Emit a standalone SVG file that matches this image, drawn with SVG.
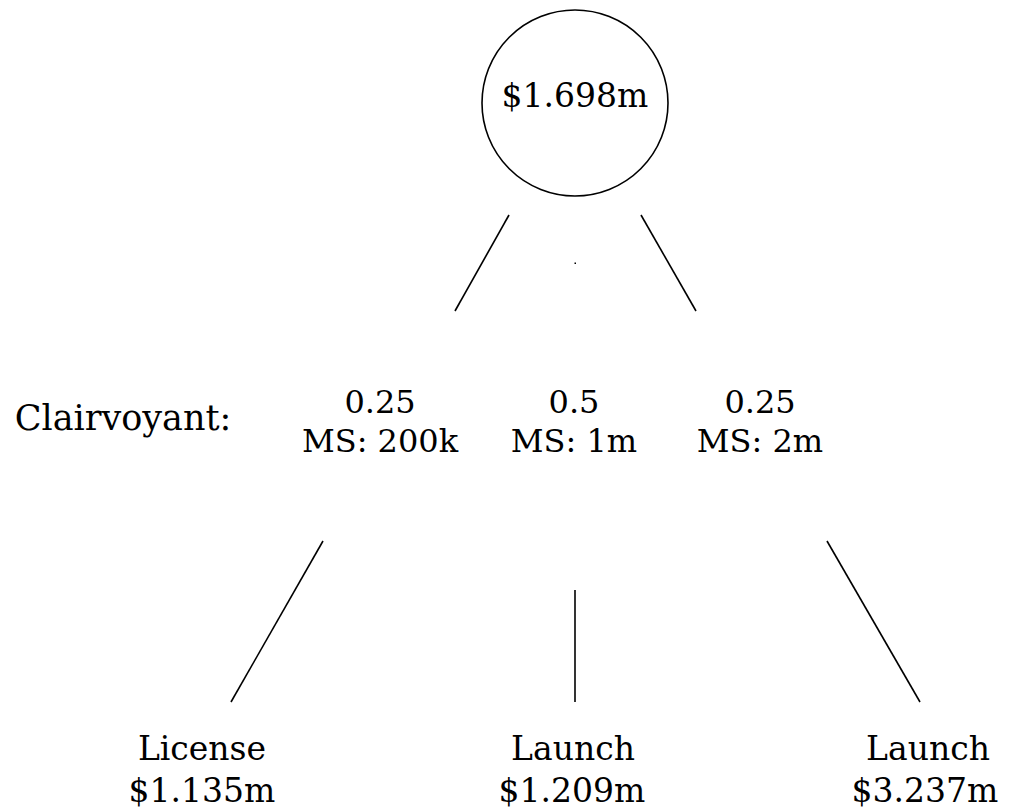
<svg xmlns="http://www.w3.org/2000/svg" width="1025" height="808" viewBox="0 0 1025 808">
<style>
text{font-family:"DejaVu Serif","Liberation Serif",serif;font-size:33px;fill:#000;text-anchor:middle}
.mid{font-size:32px}
.ln{stroke:#000;stroke-width:1.6;fill:none}
</style>
<rect width="1025" height="808" fill="#fff"/>
<g id="root">
<circle cx="575" cy="103" r="93" class="ln"/>
<text x="575" y="107">$1.698m</text>
</g>
<g id="connectors">
<line class="ln" x1="509" y1="215" x2="455" y2="311"/>
<line class="ln" x1="641" y1="215" x2="696" y2="311"/>
<line class="ln" x1="323" y1="541" x2="231" y2="702"/>
<line class="ln" x1="575" y1="590" x2="575" y2="702"/>
<line class="ln" x1="827" y1="541" x2="920" y2="702"/>
</g>
<rect x="574.5" y="262.5" width="1.5" height="1.5" fill="#000"/>
<g id="label-clairvoyant"><text x="123" y="430" style="font-size:35px">Clairvoyant:</text></g>
<g id="outcome-low" class="mid"><text class="mid" x="380" y="413">0.25</text><text class="mid" x="380" y="452">MS: 200k</text></g>
<g id="outcome-mid"><text class="mid" x="574" y="413">0.5</text><text class="mid" x="574" y="452">MS: 1m</text></g>
<g id="outcome-high"><text class="mid" x="760" y="413">0.25</text><text class="mid" x="760" y="452">MS: 2m</text></g>
<g id="leaf-license"><text x="202" y="760">License</text><text x="202" y="802">$1.135m</text></g>
<g id="leaf-launch-mid"><text x="573" y="760">Launch</text><text x="572" y="802">$1.209m</text></g>
<g id="leaf-launch-high"><text x="928" y="760">Launch</text><text x="925" y="802">$3.237m</text></g>
</svg>
